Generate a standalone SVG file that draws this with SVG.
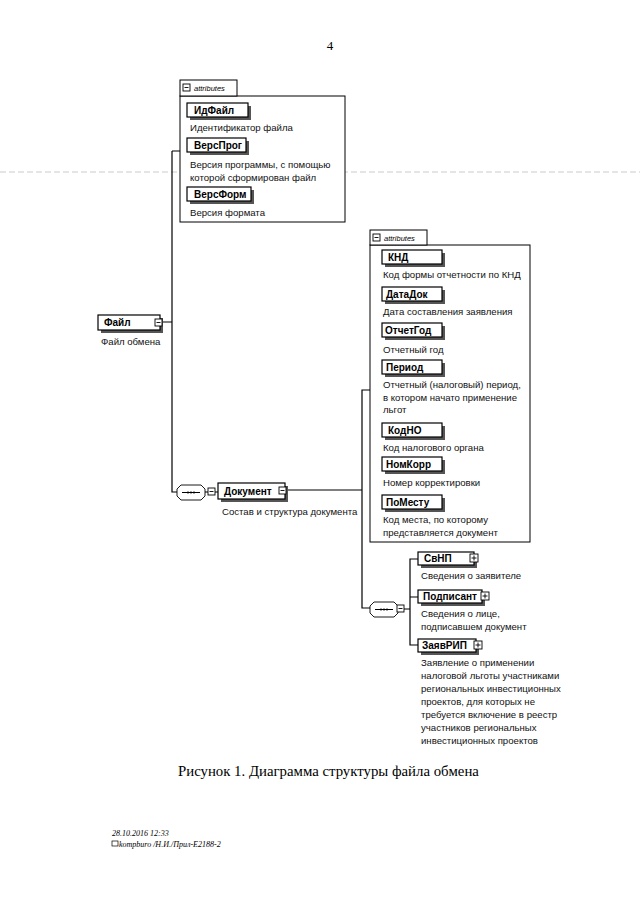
<svg xmlns="http://www.w3.org/2000/svg" width="640" height="905" viewBox="0 0 640 905">
<defs>
<style>
.n{fill:#fff;stroke:#000;stroke-width:1.2}
.sh{fill:#555}
.nt{font-family:"Liberation Sans",Arial,sans-serif;font-size:10px;font-weight:bold;fill:#000}
.d{font-family:"Liberation Sans",Arial,sans-serif;font-size:9.6px;fill:#111}
.ln{fill:none;stroke:#000;stroke-width:1.2}
.box{fill:#fff;stroke:#000;stroke-width:1}
.tab{font-family:"Liberation Sans",Arial,sans-serif;font-size:7.5px;font-style:italic;fill:#000}
.ic{fill:#fff;stroke:#000;stroke-width:0.9}
.cap{font-family:"Liberation Serif","Times New Roman",serif;font-size:14.8px;fill:#000}
.ft{font-family:"Liberation Serif","Times New Roman",serif;font-size:8px;font-style:italic;fill:#000}
</style>
<g id="minus"><rect class="ic" x="0" y="0" width="7" height="7"/><line x1="1.5" y1="3.5" x2="5.5" y2="3.5" stroke="#000" stroke-width="0.9"/></g>
<g id="plus"><rect class="ic" x="0" y="0" width="8" height="8"/><line x1="1.5" y1="4" x2="6.5" y2="4" stroke="#000" stroke-width="0.9"/><line x1="4" y1="1.5" x2="4" y2="6.5" stroke="#000" stroke-width="0.9"/></g>
<g id="seq"><path class="ic" d="M4,0 H24 L28,4 V11 L24,15 H4 L0,11 V4 Z" stroke-width="1.1"/><line x1="5" y1="7.5" x2="23" y2="7.5" stroke="#000" stroke-width="1"/><circle cx="11" cy="7.5" r="1.1"/><circle cx="14" cy="7.5" r="1.1"/><circle cx="17" cy="7.5" r="1.1"/></g>
</defs>
<rect width="640" height="905" fill="#fff"/>
<line x1="0" y1="172" x2="640" y2="172" stroke="#aaa" stroke-width="0.6" stroke-dasharray="6 3"/>
<text x="330" y="50" font-family="Liberation Serif,serif" font-size="13" text-anchor="middle">4</text>

<g id="connectors">
<path class="ln" d="M162,322 H172 M172,151 V492 H177 M172,151 H180"/>
<path class="ln" d="M205,492 H208 M215,492 H218"/>
<path class="ln" d="M286,490 H362 M370,390 H362 V608 H370"/>
<path class="ln" d="M404,609 H410 M418,559 H410 V645 H418 M410,597 H418"/>
</g>

<g id="attributes1">
<rect class="box" x="180" y="96" width="165" height="126"/>
<rect class="box" x="180" y="80" width="57" height="16"/>
<use href="#minus" x="183" y="84"/>
<text class="tab" x="194" y="91">attributes</text>
</g>
<g id="ИдФайл">
<rect class="sh" x="190" y="106" width="61" height="14"/>
<rect class="n" x="187" y="103" width="61" height="14"/>
<text class="nt" x="194" y="114">ИдФайл</text>
<text class="d" x="190" y="131">Идентификатор файла</text>
</g>
<g id="ВерсПрог">
<rect class="sh" x="190" y="141" width="59" height="14"/>
<rect class="n" x="187" y="138" width="59" height="14"/>
<text class="nt" x="194" y="149">ВерсПрог</text>
<text class="d" x="190" y="168">Версия программы, с помощью</text>
<text class="d" x="190" y="181">которой сформирован файл</text>
</g>
<g id="ВерсФорм">
<rect class="sh" x="190" y="190" width="64" height="14"/>
<rect class="n" x="187" y="187" width="64" height="14"/>
<text class="nt" x="194" y="198">ВерсФорм</text>
<text class="d" x="190" y="216">Версия формата</text>
</g>

<g id="Файл">
<rect class="sh" x="101" y="318" width="62" height="15"/>
<rect class="n" x="98" y="315" width="62" height="15"/>
<text class="nt" x="104" y="326">Файл</text>
<use href="#minus" x="155" y="319"/>
<text class="d" x="101" y="345">Файл обмена</text>
</g>

<g id="seq1">
<use href="#seq" x="177" y="485"/>
<use href="#minus" x="208" y="488"/>
</g>

<g id="Документ">
<rect class="sh" x="221" y="486" width="67" height="16"/>
<rect class="n" x="218" y="483" width="67" height="16"/>
<text class="nt" x="224" y="495">Документ</text>
<use href="#minus" x="279" y="487"/>
<text class="d" x="222" y="515">Состав и структура документа</text>
</g>

<g id="attributes2">
<rect class="box" x="370" y="245" width="160" height="297"/>
<rect class="box" x="370" y="230" width="57" height="15"/>
<use href="#minus" x="373" y="234"/>
<text class="tab" x="384" y="241">attributes</text>
</g>
<g id="КНД">
<rect class="sh" x="385" y="253" width="60" height="14"/>
<rect class="n" x="382" y="250" width="60" height="14"/>
<text class="nt" x="388" y="261">КНД</text>
<text class="d" x="383" y="278">Код формы отчетности по КНД</text>
</g>
<g id="ДатаДок">
<rect class="sh" x="385" y="290" width="60" height="14"/>
<rect class="n" x="382" y="287" width="60" height="14"/>
<text class="nt" x="386" y="298">ДатаДок</text>
<text class="d" x="383" y="315">Дата составления заявления</text>
</g>
<g id="ОтчетГод">
<rect class="sh" x="385" y="326" width="60" height="14"/>
<rect class="n" x="382" y="323" width="60" height="14"/>
<text class="nt" x="385" y="334">ОтчетГод</text>
<text class="d" x="383" y="353">Отчетный год</text>
</g>
<g id="Период">
<rect class="sh" x="385" y="363" width="60" height="14"/>
<rect class="n" x="382" y="360" width="60" height="14"/>
<text class="nt" x="386" y="371">Период</text>
<text class="d" x="383" y="388">Отчетный (налоговый) период,</text>
<text class="d" x="383" y="401">в котором начато применение</text>
<text class="d" x="383" y="413">льгот</text>
</g>
<g id="КодНО">
<rect class="sh" x="385" y="426" width="60" height="14"/>
<rect class="n" x="382" y="423" width="60" height="14"/>
<text class="nt" x="388" y="434">КодНО</text>
<text class="d" x="383" y="451">Код налогового органа</text>
</g>
<g id="НомКорр">
<rect class="sh" x="385" y="460" width="60" height="14"/>
<rect class="n" x="382" y="457" width="60" height="14"/>
<text class="nt" x="386" y="468">НомКорр</text>
<text class="d" x="383" y="486">Номер корректировки</text>
</g>
<g id="ПоМесту">
<rect class="sh" x="385" y="498" width="60" height="14"/>
<rect class="n" x="382" y="495" width="60" height="14"/>
<text class="nt" x="386" y="506">ПоМесту</text>
<text class="d" x="383" y="523">Код места, по которому</text>
<text class="d" x="383" y="536">представляется документ</text>
</g>

<g id="seq2">
<use href="#seq" x="370" y="602"/>
<use href="#minus" x="397" y="605"/>
</g>

<g id="СвНП">
<rect class="sh" x="421" y="555" width="56" height="13"/>
<rect class="n" x="418" y="552" width="56" height="13"/>
<text class="nt" x="424" y="562">СвНП</text>
<use href="#plus" x="470" y="554"/>
<text class="d" x="421" y="579">Сведения о заявителе</text>
</g>
<g id="Подписант">
<rect class="sh" x="421" y="593" width="64" height="13"/>
<rect class="n" x="418" y="590" width="64" height="13"/>
<text class="nt" x="423" y="600">Подписант</text>
<use href="#plus" x="481" y="592"/>
<text class="d" x="421" y="617">Сведения о лице,</text>
<text class="d" x="421" y="630">подписавшем документ</text>
</g>
<g id="ЗаявРИП">
<rect class="sh" x="421" y="642" width="58" height="13"/>
<rect class="n" x="418" y="639" width="58" height="13"/>
<text class="nt" x="422" y="649">ЗаявРИП</text>
<use href="#plus" x="474" y="641"/>
<text class="d" x="421" y="666">Заявление о применении</text>
<text class="d" x="421" y="679">налоговой льготы участниками</text>
<text class="d" x="421" y="692">региональных инвестиционных</text>
<text class="d" x="421" y="705">проектов, для которых не</text>
<text class="d" x="421" y="718">требуется включение в реестр</text>
<text class="d" x="421" y="731">участников региональных</text>
<text class="d" x="421" y="744">инвестиционных проектов</text>
</g>

<text class="cap" x="178" y="776">Рисунок 1. Диаграмма структуры файла обмена</text>
<text class="ft" x="112" y="836">28.10.2016 12:33</text>
<rect x="112" y="841" width="6" height="5" fill="none" stroke="#000" stroke-width="0.7"/>
<text class="ft" x="119" y="847">kompburo /Н.И./Прил-Е2188-2</text>
</svg>
